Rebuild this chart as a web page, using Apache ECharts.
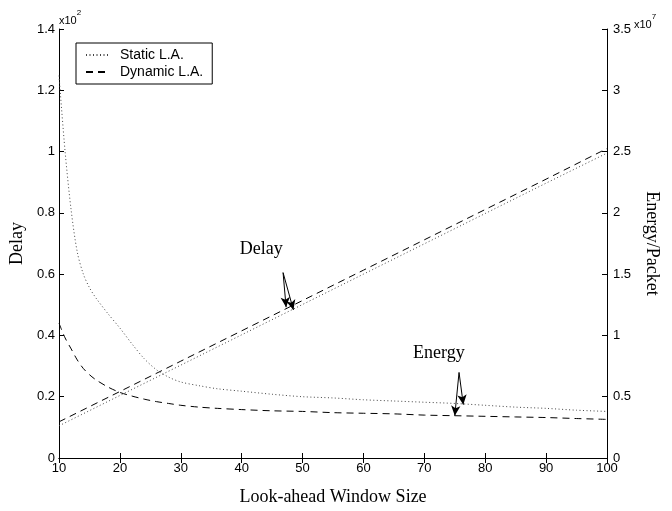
<!DOCTYPE html>
<html><head><meta charset="utf-8">
<script src="https://cdn.jsdelivr.net/npm/echarts@6/dist/echarts.min.js"></script>
<style>html,body{margin:0;padding:0;background:#fff}#c{width:672px;height:511px}</style>
</head><body><div id="c"></div>
<script>
var xTicks = [10,20,30,40,50,60,70,80,90,100];
var delayX = [10,20,30,40,50,60,70,80,90,100];
var delayStatic  = [0.105,0.204,0.303,0.402,0.501,0.600,0.699,0.798,0.897,0.995];
var delayDynamic = [0.118,0.217,0.316,0.415,0.514,0.613,0.712,0.811,0.910,1.010];
var energyX = [10,11,12,13,14,15,16,18,20,22,24,26,28,30,33,36,40,45,50,55,60,65,70,75,80,85,90,95,100];
var energyStatic  = [3.12,2.5,2.02,1.68,1.5,1.39,1.31,1.18,1.06,0.93,0.81,0.72,0.66,0.62,0.59,0.565,0.545,0.52,0.5,0.49,0.475,0.465,0.455,0.445,0.43,0.415,0.405,0.39,0.38];
var energyDynamic = [1.1,0.98,0.89,0.8,0.73,0.68,0.64,0.58,0.535,0.505,0.48,0.46,0.445,0.43,0.415,0.405,0.395,0.385,0.38,0.37,0.365,0.36,0.35,0.345,0.34,0.335,0.33,0.322,0.315];
var leftTicks = [0,0.2,0.4,0.6,0.8,1,1.2,1.4];
var rightTicks = [0,0.5,1,1.5,2,2.5,3,3.5];

function pairs(xs, ys){ return xs.map(function(x,i){return [x, ys[i]];}); }
var sans = 'Liberation Sans';
var serif = 'Liberation Serif';
var arrowStyle = {color:'#000', width:1, type:'solid'};
var hidden = {color:'rgba(0,0,0,0)', borderColor:'rgba(0,0,0,0)', borderWidth:0};

var chart = echarts.init(document.getElementById('c'), null, {renderer:'canvas'});
chart.setOption({
  animation:false,
  backgroundColor:'#fff',
  grid:{left:59, right:65, top:29, bottom:52, containLabel:false},
  legend:{
    orient:'vertical', left:76, top:43, itemWidth:24, itemHeight:10, itemGap:3,
    padding:[5,9,5,9], borderColor:'#000', borderWidth:1, backgroundColor:'#fff',
    itemStyle:hidden,
    textStyle:{fontFamily:sans, fontSize:14, color:'#000', padding:[0,0,0,5]},
    data:[{name:'Static L.A.', itemStyle:hidden},{name:'Dynamic L.A.', itemStyle:hidden}]
  },
  xAxis:[{
    type:'value', min:10, max:100, interval:10, position:'bottom',
    name:'Look-ahead Window Size', nameLocation:'middle', nameGap:30,
    nameTextStyle:{fontFamily:serif, fontSize:18, color:'#000'},
    axisLine:{lineStyle:{color:'#000', width:1}},
    axisTick:{inside:true, length:5, lineStyle:{color:'#000'}},
    axisLabel:{fontFamily:sans, fontSize:13, color:'#000', margin:4,
      formatter:function(v){return xTicks.indexOf(v)>=0 ? String(v) : '';}},
    splitLine:{show:false}
  },{
    type:'value', min:10, max:100, interval:10, position:'top',
    axisLine:{show:true, lineStyle:{color:'#000', width:1}},
    axisTick:{inside:true, length:5, lineStyle:{color:'#000'}},
    axisLabel:{show:false}, splitLine:{show:false}
  }],
  yAxis:[{
    type:'value', min:0, max:1.4, interval:0.2, position:'left',
    name:'Delay', nameLocation:'middle', nameGap:30, nameRotate:90,
    nameTextStyle:{fontFamily:serif, fontSize:18, color:'#000'},
    axisLine:{show:true, lineStyle:{color:'#000', width:1}},
    axisTick:{show:true, inside:true, length:5, lineStyle:{color:'#000'}},
    axisLabel:{fontFamily:sans, fontSize:13, color:'#000', margin:4,
      formatter:function(v){var r=Math.round(v*10)/10; return leftTicks.indexOf(r)>=0 ? String(r) : '';}},
    splitLine:{show:false}
  },{
    type:'value', min:0, max:3.5, interval:0.5, position:'right',
    name:'Energy/Packet', nameLocation:'middle', nameGap:36, nameRotate:-90,
    nameTextStyle:{fontFamily:serif, fontSize:18, color:'#000'},
    axisLine:{show:true, lineStyle:{color:'#000', width:1}},
    axisTick:{show:true, inside:true, length:5, lineStyle:{color:'#000'}},
    axisLabel:{fontFamily:sans, fontSize:13, color:'#000', margin:6,
      formatter:function(v){var r=Math.round(v*10)/10; return rightTicks.indexOf(r)>=0 ? String(r) : '';}},
    splitLine:{show:false}
  }],
  graphic:[
    {type:'text', left:59, top:9, style:{
      text:'{a|x10}{b|2}', rich:{a:{fontFamily:sans, fontSize:11, fill:'#000', padding:[6,0,0,0]}, b:{fontFamily:sans, fontSize:8, fill:'#000', verticalAlign:'top'}}}},
    {type:'text', left:634, top:13, style:{
      text:'{a|x10}{b|7}', rich:{a:{fontFamily:sans, fontSize:11, fill:'#000', padding:[6,0,0,0]}, b:{fontFamily:sans, fontSize:8, fill:'#000', verticalAlign:'top'}}}}
  ],
  series:[
    {name:'Static L.A.', type:'line', xAxisIndex:0, yAxisIndex:0, data:pairs(delayX, delayStatic),
     symbol:'none', lineStyle:{color:'#444', width:1, type:[1,2.5]}, itemStyle:{color:'#444'}},
    {name:'Dynamic L.A.', type:'line', xAxisIndex:0, yAxisIndex:0, data:pairs(delayX, delayDynamic),
     symbol:'none', lineStyle:{color:'#000', width:1, type:[7,5]}, itemStyle:{color:'#000'},
     markLine:{silent:true, symbol:['none','arrow'], symbolSize:[7,10], lineStyle:arrowStyle, label:{show:false},
       data:[[{coord:[46.8,0.605]},{coord:[47.3,0.492]}],[{coord:[46.8,0.605]},{coord:[48.5,0.483]}]]},
     markPoint:{silent:true, symbol:'circle', symbolSize:1, itemStyle:{color:'rgba(0,0,0,0)'},
       label:{show:true, position:'inside', fontFamily:serif, fontSize:18, color:'#000', formatter:'Delay'},
       data:[{coord:[43.2,0.68]}]}},
    {name:'Static L.A.', type:'line', xAxisIndex:0, yAxisIndex:1, data:pairs(energyX, energyStatic),
     symbol:'none', smooth:0.3, lineStyle:{color:'#444', width:1, type:[1,2.5]}, itemStyle:{color:'#444'}},
    {name:'Dynamic L.A.', type:'line', xAxisIndex:0, yAxisIndex:1, data:pairs(energyX, energyDynamic),
     symbol:'none', smooth:0.3, lineStyle:{color:'#000', width:1, type:[7,5]}, itemStyle:{color:'#000'},
     markLine:{silent:true, symbol:['none','arrow'], symbolSize:[7,10], lineStyle:arrowStyle, label:{show:false},
       data:[[{coord:[75.7,0.698]},{coord:[75.0,0.345]}],[{coord:[75.7,0.698]},{coord:[76.4,0.435]}]]},
     markPoint:{silent:true, symbol:'circle', symbolSize:1, itemStyle:{color:'rgba(0,0,0,0)'},
       label:{show:true, position:'inside', fontFamily:serif, fontSize:18, color:'#000', formatter:'Energy'},
       data:[{coord:[72.4,0.855]}]}}
  ]
});
</script></body></html>
